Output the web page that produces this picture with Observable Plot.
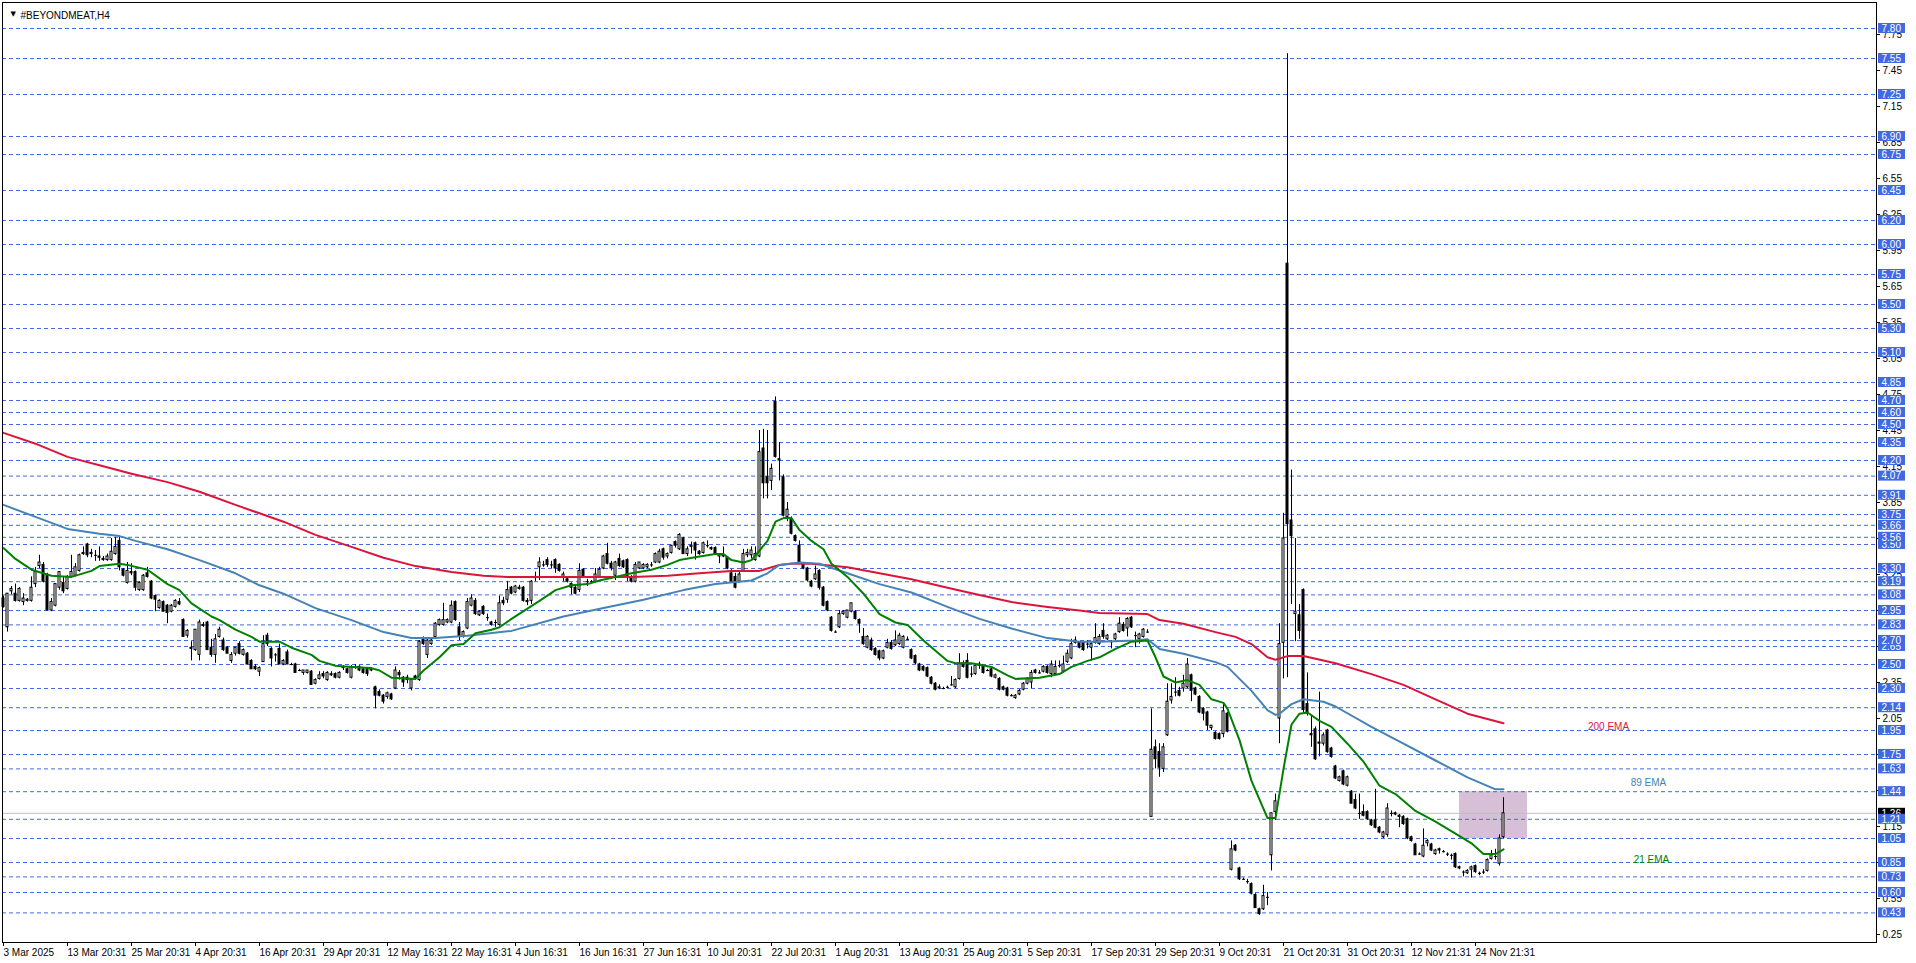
<!DOCTYPE html>
<html><head><meta charset="utf-8">
<script src="https://cdn.jsdelivr.net/npm/d3@7"></script>
<script src="https://cdn.jsdelivr.net/npm/@observablehq/plot@0.6"></script>
<style>html,body{margin:0;padding:0;background:#fff;overflow:hidden}</style>
</head><body><div id="chart"></div>
<script>
// ---------- DATA ----------
const symbolTitle = "#BEYONDMEAT,H4";

const open = [
3.05,2.81,3.11,3.09,3.03,3.02,3.03,3.03,3.17,3.32,3.33,3.24,2.95,2.99,3.14,3.18,
3.13,3.23,3.24,3.28,3.42,3.50,3.42,3.41,3.40,3.38,3.37,3.37,3.42,3.53,3.29,3.18,
3.27,3.27,3.12,3.12,3.26,3.19,3.07,2.97,3.02,2.99,2.94,2.98,3.02,2.87,2.74,2.64,
2.62,2.58,2.83,2.85,2.64,2.58,2.73,2.70,2.64,2.53,2.59,2.67,2.58,2.59,2.53,2.48,
2.44,2.52,2.74,2.63,2.58,2.63,2.50,2.60,2.50,2.50,2.45,2.43,2.43,2.44,2.34,2.38,
2.42,2.37,2.41,2.42,2.39,2.47,2.46,2.39,2.48,2.48,2.46,2.46,2.45,2.31,2.27,2.24,
2.23,2.25,2.30,2.43,2.39,2.39,2.30,2.40,2.37,2.71,2.58,2.67,2.73,2.83,2.83,2.85,
2.85,3.02,2.81,2.73,2.80,2.99,3.03,2.91,2.98,2.89,2.85,2.85,2.83,3.03,3.04,3.14,
3.10,3.13,3.14,3.03,3.03,3.22,3.31,3.33,3.37,3.33,3.37,3.33,3.23,3.21,3.17,3.14,
3.12,3.29,3.19,3.19,3.19,3.23,3.30,3.42,3.34,3.24,3.38,3.36,3.37,3.23,3.19,3.30,
3.30,3.31,3.33,3.35,3.35,3.46,3.40,3.43,3.52,3.46,3.55,3.42,3.48,3.51,3.44,3.43,
3.49,3.47,3.47,3.40,3.41,3.39,3.26,3.23,3.19,3.28,3.41,3.41,3.37,3.40,4.30,4.06,
4.03,4.69,4.21,4.06,3.73,3.71,3.57,3.49,3.34,3.30,3.19,3.21,3.28,3.14,3.02,2.89,
2.77,2.81,2.92,2.89,2.94,2.94,2.87,2.73,2.64,2.70,2.63,2.61,2.55,2.64,2.68,2.66,
2.67,2.64,2.71,2.62,2.57,2.50,2.48,2.47,2.39,2.34,2.30,2.30,2.31,2.33,2.31,2.38,
2.51,2.53,2.42,2.42,2.50,2.48,2.45,2.46,2.39,2.38,2.31,2.30,2.24,2.22,2.25,2.29,
2.34,2.35,2.45,2.43,2.44,2.48,2.42,2.42,2.49,2.44,2.52,2.55,2.68,2.68,2.68,2.67,
2.64,2.68,2.67,2.78,2.71,2.69,2.71,2.77,2.83,2.80,2.89,2.74,2.71,2.73,2.77,1.23,
1.81,1.77,1.63,1.91,2.20,2.27,2.28,2.30,2.31,2.41,2.30,2.23,2.13,2.10,1.97,1.93,
1.92,1.92,2.09,0.79,0.99,0.80,0.71,0.69,0.67,0.58,0.46,0.46,0.56,0.91,1.27,2.05,
2.68,5.84,3.70,2.92,2.91,3.12,2.17,1.92,1.96,1.85,1.84,1.95,1.80,1.65,1.53,1.61,
1.49,1.44,1.37,1.26,1.27,1.27,1.20,1.20,1.14,1.06,1.08,1.26,1.26,1.23,1.23,1.21,
1.06,1.00,0.92,0.90,1.01,1.00,0.92,0.96,0.94,0.92,0.91,0.92,0.81,0.77,0.76,0.79,
0.82,0.76,0.77,0.78,0.88,0.90,0.84,1.06];

const high = [
3.07,3.09,3.15,3.17,3.14,3.09,3.05,3.23,3.31,3.41,3.35,3.26,3.05,3.17,3.27,3.23,
3.24,3.41,3.34,3.42,3.48,3.51,3.46,3.45,3.48,3.40,3.42,3.55,3.56,3.56,3.30,3.35,
3.34,3.28,3.19,3.25,3.31,3.20,3.08,3.04,3.03,3.00,3.00,3.04,3.05,2.88,2.79,2.69,
2.79,2.87,2.85,2.86,2.71,2.75,2.81,2.72,2.65,2.60,2.64,2.69,2.63,2.60,2.54,2.50,
2.48,2.74,2.76,2.64,2.59,2.67,2.54,2.62,2.51,2.51,2.46,2.45,2.45,2.45,2.38,2.44,
2.44,2.44,2.44,2.43,2.44,2.49,2.47,2.49,2.50,2.49,2.47,2.47,2.47,2.32,2.29,2.25,
2.27,2.26,2.48,2.45,2.40,2.41,2.38,2.41,2.70,2.73,2.72,2.72,2.85,2.88,3.01,2.88,
3.03,3.03,2.85,2.78,3.05,3.08,3.05,2.95,2.99,2.92,2.86,2.87,3.07,3.06,3.19,3.15,
3.16,3.16,3.15,3.05,3.20,3.27,3.39,3.36,3.39,3.36,3.38,3.34,3.27,3.23,3.18,3.15,
3.34,3.30,3.21,3.20,3.30,3.31,3.41,3.51,3.36,3.36,3.42,3.37,3.38,3.24,3.35,3.35,
3.34,3.34,3.35,3.43,3.46,3.47,3.43,3.49,3.53,3.59,3.56,3.48,3.52,3.52,3.45,3.52,
3.53,3.48,3.48,3.42,3.48,3.40,3.29,3.26,3.27,3.46,3.46,3.48,3.48,4.45,4.46,4.45,
4.17,4.73,4.35,4.08,3.85,3.73,3.58,3.53,3.35,3.31,3.20,3.32,3.29,3.15,3.03,2.90,
2.78,2.95,2.95,2.95,3.01,2.95,2.88,2.80,2.74,2.72,2.64,2.62,2.62,2.71,2.70,2.78,
2.76,2.74,2.73,2.63,2.58,2.51,2.49,2.48,2.40,2.35,2.33,2.31,2.32,2.40,2.38,2.59,
2.53,2.59,2.48,2.50,2.52,2.49,2.46,2.47,2.42,2.39,2.32,2.31,2.25,2.25,2.29,2.35,
2.39,2.45,2.46,2.45,2.49,2.49,2.53,2.53,2.53,2.57,2.62,2.71,2.73,2.69,2.69,2.70,
2.68,2.84,2.75,2.84,2.75,2.70,2.76,2.89,2.85,2.89,2.90,2.77,2.76,2.80,2.79,2.13,
1.87,1.84,1.84,2.34,2.34,2.39,2.31,2.41,2.55,2.42,2.31,2.24,2.14,2.11,1.99,1.94,
1.93,2.17,2.10,1.03,1.00,0.81,0.72,0.71,0.68,0.59,0.47,0.66,0.60,1.26,1.42,2.84,
3.76,7.59,4.12,3.55,3.00,3.13,2.43,2.07,1.98,2.27,1.93,1.96,1.81,1.66,1.57,1.62,
1.57,1.45,1.42,1.42,1.33,1.28,1.21,1.46,1.15,1.11,1.34,1.28,1.27,1.25,1.24,1.22,
1.07,1.01,0.93,1.13,1.04,1.01,0.96,0.97,0.95,0.93,0.92,0.93,0.82,0.78,0.79,0.82,
0.83,0.77,0.79,0.88,0.95,0.96,1.08,1.39];

const low = [
2.97,2.77,3.08,3.02,3.02,2.99,3.02,3.02,3.14,3.30,3.18,2.95,2.94,2.98,3.12,3.09,
3.12,3.22,3.23,3.27,3.41,3.39,3.39,3.36,3.36,3.36,3.36,3.36,3.41,3.28,3.23,3.17,
3.24,3.11,3.11,3.11,3.22,3.04,2.94,2.96,2.94,2.84,2.93,2.97,2.99,2.73,2.72,2.53,
2.61,2.53,2.81,2.62,2.56,2.51,2.72,2.61,2.59,2.51,2.57,2.58,2.57,2.50,2.46,2.45,
2.40,2.52,2.65,2.48,2.52,2.50,2.49,2.50,2.49,2.43,2.44,2.41,2.42,2.33,2.33,2.37,
2.38,2.36,2.40,2.38,2.38,2.45,2.42,2.38,2.46,2.44,2.42,2.40,2.44,2.13,2.23,2.17,
2.21,2.20,2.29,2.37,2.31,2.34,2.28,2.37,2.36,2.66,2.55,2.66,2.72,2.82,2.82,2.84,
2.84,2.86,2.70,2.72,2.79,2.98,2.91,2.90,2.91,2.86,2.82,2.81,2.82,2.99,3.01,3.08,
3.09,3.12,3.02,2.99,3.00,3.19,3.20,3.31,3.31,3.30,3.26,3.27,3.19,3.18,3.08,3.08,
3.10,3.22,3.15,3.18,3.18,3.22,3.29,3.33,3.28,3.20,3.31,3.30,3.19,3.18,3.18,3.29,
3.29,3.30,3.31,3.34,3.34,3.37,3.38,3.42,3.47,3.45,3.42,3.40,3.42,3.37,3.41,3.42,
3.47,3.45,3.42,3.34,3.39,3.29,3.18,3.13,3.18,3.27,3.39,3.38,3.36,3.39,3.88,3.88,
3.95,4.22,4.03,3.73,3.69,3.58,3.52,3.34,3.29,3.19,3.14,3.20,3.12,2.98,2.94,2.77,
2.76,2.80,2.91,2.88,2.93,2.87,2.76,2.66,2.63,2.61,2.57,2.53,2.54,2.63,2.62,2.65,
2.66,2.63,2.70,2.54,2.50,2.44,2.44,2.39,2.33,2.28,2.29,2.29,2.30,2.32,2.30,2.37,
2.47,2.38,2.39,2.41,2.46,2.42,2.44,2.39,2.38,2.28,2.28,2.23,2.23,2.21,2.24,2.28,
2.33,2.30,2.42,2.42,2.43,2.42,2.39,2.41,2.47,2.43,2.51,2.54,2.67,2.63,2.61,2.63,
2.53,2.67,2.66,2.71,2.70,2.63,2.70,2.76,2.77,2.73,2.80,2.64,2.67,2.72,2.76,1.23,
1.63,1.56,1.60,1.90,2.17,2.23,2.23,2.27,2.30,2.19,2.24,2.09,2.03,1.95,1.95,1.87,
1.87,1.89,1.93,0.78,0.94,0.70,0.70,0.67,0.58,0.47,0.41,0.45,0.49,0.78,1.20,1.84,
2.38,2.39,3.00,2.69,2.71,2.10,2.07,1.81,1.70,1.73,1.82,1.76,1.72,1.54,1.52,1.49,
1.48,1.34,1.29,1.21,1.23,1.20,1.15,1.13,1.09,1.05,1.06,1.23,1.24,1.14,1.16,1.04,
1.02,0.91,0.91,0.89,0.98,0.94,0.91,0.92,0.93,0.90,0.87,0.80,0.79,0.73,0.75,0.72,
0.76,0.74,0.75,0.77,0.87,0.87,0.82,1.05];

const close = [
2.98,3.09,3.13,3.03,3.13,3.05,3.04,3.14,3.27,3.35,3.19,2.95,3.02,3.17,3.27,3.11,
3.23,3.27,3.31,3.41,3.43,3.41,3.43,3.41,3.39,3.37,3.40,3.44,3.48,3.31,3.24,3.28,
3.26,3.14,3.18,3.24,3.23,3.05,3.04,3.03,2.94,2.93,2.99,3.03,3.00,2.73,2.78,2.63,
2.79,2.85,2.82,2.62,2.58,2.71,2.79,2.62,2.59,2.58,2.64,2.59,2.62,2.50,2.46,2.46,
2.47,2.67,2.67,2.55,2.58,2.50,2.53,2.50,2.50,2.43,2.45,2.45,2.45,2.33,2.37,2.41,
2.40,2.43,2.42,2.39,2.43,2.48,2.43,2.48,2.48,2.45,2.43,2.42,2.46,2.24,2.24,2.19,
2.26,2.21,2.45,2.41,2.35,2.37,2.37,2.38,2.69,2.67,2.70,2.70,2.84,2.87,2.87,2.87,
2.99,2.87,2.73,2.77,3.02,3.05,2.92,2.94,2.92,2.89,2.83,2.85,3.01,3.01,3.12,3.09,
3.15,3.14,3.03,3.02,3.19,3.23,3.35,3.33,3.33,3.33,3.30,3.28,3.25,3.19,3.14,3.09,
3.28,3.23,3.19,3.19,3.25,3.29,3.40,3.34,3.30,3.35,3.32,3.31,3.23,3.19,3.33,3.35,
3.33,3.33,3.33,3.42,3.44,3.39,3.42,3.49,3.49,3.58,3.42,3.46,3.49,3.45,3.42,3.51,
3.49,3.46,3.42,3.42,3.40,3.30,3.19,3.14,3.25,3.42,3.43,3.45,3.42,4.27,4.01,4.01,
4.13,4.23,4.20,3.74,3.79,3.59,3.53,3.35,3.30,3.20,3.15,3.25,3.14,2.99,2.95,2.78,
2.77,2.92,2.94,2.95,3.01,2.88,2.84,2.67,2.73,2.62,2.58,2.55,2.61,2.68,2.63,2.70,
2.74,2.73,2.71,2.55,2.51,2.45,2.45,2.40,2.34,2.29,2.31,2.30,2.31,2.33,2.37,2.51,
2.48,2.39,2.42,2.49,2.49,2.43,2.45,2.40,2.41,2.29,2.29,2.24,2.24,2.24,2.28,2.34,
2.38,2.43,2.43,2.43,2.48,2.43,2.50,2.48,2.49,2.50,2.59,2.67,2.70,2.64,2.62,2.67,
2.67,2.72,2.73,2.73,2.74,2.69,2.75,2.84,2.78,2.88,2.81,2.74,2.75,2.79,2.77,1.79,
1.71,1.64,1.81,2.19,2.23,2.27,2.24,2.34,2.50,2.28,2.25,2.10,2.09,1.99,1.99,1.88,
1.88,2.11,1.94,0.96,0.95,0.71,0.71,0.69,0.59,0.47,0.42,0.57,0.56,1.26,1.36,2.67,
3.55,3.67,3.57,2.94,2.78,2.12,2.09,1.91,1.71,1.84,1.91,1.77,1.73,1.55,1.56,1.50,
1.56,1.34,1.30,1.26,1.24,1.21,1.16,1.14,1.10,1.10,1.30,1.26,1.25,1.24,1.17,1.05,
1.03,0.91,0.92,0.99,1.03,0.95,0.95,0.95,0.94,0.92,0.91,0.81,0.80,0.77,0.78,0.81,
0.77,0.76,0.77,0.87,0.91,0.90,1.05,1.26];

// moving averages (at these bar numbers)
const ema200Bars = [0,8,16,24,32,41,49,58,64,70,78,87,95,103,112,120,126,141,157,166,174,182,189,194,197,202,211,219,227,236,244,252,261,269,274,286,289,295,303,308,312,316,318,321,325,333,342,350,358,366,375];
const ema200Values = [4.43,4.34,4.23,4.16,4.09,4.02,3.94,3.83,3.76,3.69,3.58,3.48,3.39,3.32,3.27,3.24,3.23,3.23,3.23,3.24,3.26,3.28,3.28,3.33,3.34,3.34,3.31,3.26,3.21,3.14,3.08,3.02,2.98,2.95,2.93,2.92,2.87,2.84,2.77,2.73,2.67,2.56,2.54,2.57,2.57,2.51,2.42,2.33,2.21,2.09,2.01];

const ema89Bars = [0,8,16,24,29,33,41,49,58,64,70,78,87,95,102,108,116,127,140,150,160,170,178,187,191,194,199,204,211,219,227,236,244,252,261,269,274,283,286,289,295,303,306,312,316,318,319,322,325,330,333,342,350,358,366,373,375];
const ema89Values = [3.83,3.73,3.63,3.59,3.57,3.53,3.46,3.37,3.26,3.16,3.09,2.97,2.87,2.77,2.72,2.72,2.74,2.78,2.90,2.97,3.04,3.12,3.17,3.20,3.26,3.33,3.35,3.34,3.26,3.17,3.10,2.98,2.88,2.80,2.72,2.69,2.69,2.70,2.71,2.63,2.59,2.52,2.48,2.28,2.12,2.08,2.09,2.17,2.21,2.19,2.15,1.98,1.84,1.70,1.56,1.46,1.46];

const ema21Bars = [0,3,7,12,17,22,24,29,31,36,41,44,47,52,54,58,62,64,69,72,77,79,83,87,92,94,97,103,105,109,112,115,118,122,124,127,134,138,142,146,149,153,157,162,166,169,174,178,180,182,185,187,189,191,193,195,197,199,202,205,207,211,215,219,223,226,230,236,238,242,247,251,253,259,264,267,271,274,278,282,286,288,290,293,296,299,302,305,306,309,312,316,318,320,322,324,326,329,332,336,340,344,348,353,358,363,367,370,373,375];
const ema21Values = [3.47,3.38,3.29,3.24,3.23,3.28,3.32,3.34,3.33,3.29,3.17,3.12,3.01,2.90,2.87,2.79,2.73,2.69,2.69,2.64,2.58,2.53,2.49,2.48,2.47,2.45,2.39,2.38,2.45,2.56,2.66,2.67,2.76,2.79,2.81,2.88,3.03,3.12,3.16,3.17,3.20,3.23,3.26,3.29,3.33,3.37,3.40,3.42,3.42,3.37,3.35,3.37,3.45,3.53,3.69,3.72,3.72,3.62,3.53,3.46,3.34,3.23,3.09,2.92,2.85,2.83,2.70,2.53,2.51,2.51,2.48,2.41,2.38,2.39,2.42,2.48,2.53,2.56,2.63,2.69,2.70,2.56,2.40,2.35,2.37,2.33,2.21,2.18,2.13,1.87,1.53,1.22,1.22,1.63,2.00,2.09,2.10,2.03,1.98,1.84,1.69,1.49,1.42,1.28,1.19,1.09,1.01,0.92,0.92,0.96];

const emaNames = ["200 EMA", "89 EMA", "21 EMA"];

// horizontal price levels (blue dashed lines with boxed labels)
const levels = [0.43,0.60,0.73,0.85,1.05,1.21,1.44,1.63,1.75,1.95,2.14,2.30,2.50,2.65,2.70,2.83,2.95,3.08,3.19,3.30,3.50,3.56,3.66,3.75,3.91,4.07,4.20,4.35,4.50,4.60,4.70,4.85,5.10,5.30,5.50,5.75,6.00,6.20,6.45,6.75,6.90,7.25,7.55,7.80];
const bidPrice = 1.26;

// highlighted zone (bar range and price range)
const zoneBars = [364, 381];
const zonePrices = [1.05, 1.44];

// axis ticks
const yTickValues = [0.25,0.55,0.85,1.15,1.45,1.75,2.05,2.35,2.65,2.95,3.25,3.55,3.85,4.15,4.45,4.75,5.05,5.35,5.65,5.95,6.25,6.55,6.85,7.15,7.45,7.75];
const xTickBars = [0,16,32,48,64,80,96,112,128,144,160,176,192,208,224,240,256,272,288,304,320,336,352,368];
const xTickLabels = ["3 Mar 2025","13 Mar 20:31","25 Mar 20:31","4 Apr 20:31","16 Apr 20:31","29 Apr 20:31","12 May 16:31","22 May 16:31","4 Jun 16:31","16 Jun 16:31","27 Jun 16:31","10 Jul 20:31","22 Jul 20:31","1 Aug 20:31","13 Aug 20:31","25 Aug 20:31","5 Sep 20:31","17 Sep 20:31","29 Sep 20:31","9 Oct 20:31","21 Oct 20:31","31 Oct 20:31","12 Nov 21:31","24 Nov 21:31"];

// ---------- LAYOUT ----------
const W = 1916, H = 963;
const mL = 2, mR = 40, mT = 2, mB = 21;
const barPx = 4, firstBarPx = 3;          // bar spacing in pixels
const unitPx = 120, refPrice = 7.80, refPx = 28;  // vertical price scale
const pxToBar = px => (px - firstBarPx) / barPx;
const pxToPrice = py => refPrice - (py - refPx) / unitPx;

const blue = "#4169e1", red = "#dc143c", steel = "#4682b4", green = "#008000";

const candles = open.map((o, i) => ({i, o, h: high[i], l: low[i], c: close[i]}));
const ups = candles.filter(d => d.c > d.o + 0.004);
const downs = candles.filter(d => d.o > d.c + 0.004);
const dojis = candles.filter(d => Math.abs(d.c - d.o) <= 0.004);
const pts = (bars, vals) => bars.map((b, k) => ({b, v: vals[k]}));
const tickMap = new Map(xTickBars.map((b, k) => [b, xTickLabels[k]]));

const boxH = 10 / unitPx;
const boxX1 = pxToBar(1878), boxX2 = pxToBar(1905), boxTx = pxToBar(1881);

const boxMarks = [];
boxMarks.push(Plot.rect([bidPrice], {x1: boxX1, x2: boxX2, y1: d => d - boxH/2, y2: d => d + boxH/2, fill: "black"}));
boxMarks.push(Plot.text([bidPrice], {x: boxTx, y: d => d, text: d => d.toFixed(2), fill: "white", textAnchor: "start", fontSize: 10}));
for (const lv of levels) {
  boxMarks.push(Plot.rect([lv], {x1: boxX1, x2: boxX2, y1: d => d - boxH/2, y2: d => d + boxH/2, fill: blue}));
  boxMarks.push(Plot.text([lv], {x: boxTx, y: d => d, text: d => d.toFixed(2), fill: "white", textAnchor: "start", fontSize: 10}));
}

const chart = Plot.plot({
  width: W, height: H,
  marginLeft: mL, marginRight: mR, marginTop: mT, marginBottom: mB,
  x: {type: "linear", domain: [pxToBar(mL), pxToBar(W - mR)]},
  y: {type: "linear", domain: [pxToPrice(H - mB), pxToPrice(mT)]},
  style: {fontFamily: "'Liberation Sans', Arial, sans-serif", fontSize: "10px", background: "white", color: "black"},
  marks: [
    Plot.rect([0], {x1: zoneBars[0], x2: zoneBars[1], y1: zonePrices[0], y2: zonePrices[1], fill: "#d8bfd8"}),
    Plot.ruleY(levels, {stroke: blue, strokeWidth: 1, strokeDasharray: "4,3"}),
    Plot.ruleY([bidPrice], {stroke: "#c0c0c0", strokeWidth: 1}),
    Plot.ruleX(candles, {x: "i", y1: "l", y2: "h", stroke: "black", strokeWidth: 1}),
    Plot.rect(ups, {x1: d => d.i - 0.25, x2: d => d.i + 0.25, y1: "o", y2: "c", fill: "white", stroke: "black", strokeWidth: 1}),
    Plot.rect(downs, {x1: d => d.i - 0.25, x2: d => d.i + 0.25, y1: "o", y2: "c", fill: "black", stroke: "black", strokeWidth: 1}),
    Plot.ruleY(dojis, {y: "c", x1: d => d.i - 0.25, x2: d => d.i + 0.5, stroke: "black", strokeWidth: 1}),
    Plot.line(pts(ema200Bars, ema200Values), {x: "b", y: "v", stroke: red, strokeWidth: 2}),
    Plot.line(pts(ema89Bars, ema89Values), {x: "b", y: "v", stroke: steel, strokeWidth: 2}),
    Plot.line(pts(ema21Bars, ema21Values), {x: "b", y: "v", stroke: green, strokeWidth: 2}),
    Plot.text([emaNames[0]], {x: pxToBar(1608), y: pxToPrice(726), text: d => d, fill: red, fontSize: 10}),
    Plot.text([emaNames[1]], {x: pxToBar(1648), y: pxToPrice(782), text: d => d, fill: steel, fontSize: 10}),
    Plot.text([emaNames[2]], {x: pxToBar(1651), y: pxToPrice(859), text: d => d, fill: green, fontSize: 10}),
    Plot.frame({stroke: "black"}),
    Plot.axisY({anchor: "right", ticks: yTickValues, tickFormat: d => d.toFixed(2), tickSize: 3, tickPadding: 3, label: null, fontSize: 10}),
    Plot.axisX({anchor: "bottom", ticks: xTickBars, tickFormat: d => tickMap.get(d), tickSize: 4, tickPadding: 2, textAnchor: "start", label: null, fontSize: 10}),
    ...boxMarks,
    Plot.text([symbolTitle], {frameAnchor: "top-left", dx: 18, dy: 9, text: d => d, textAnchor: "start", fontSize: 10, fill: "black"}),
    Plot.text(["\u25BC"], {frameAnchor: "top-left", dx: 8, dy: 9, text: d => d, fontSize: 7, fill: "black", fontFamily: "DejaVu Sans"})
  ]
});
document.getElementById("chart").appendChild(chart);
</script>
</body></html>
